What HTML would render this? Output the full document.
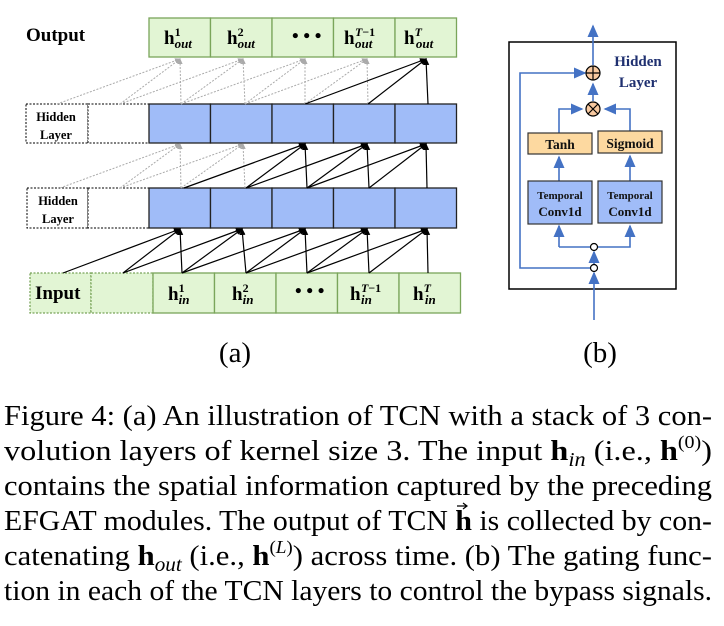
<!DOCTYPE html>
<html><head><meta charset="utf-8"><style>
html,body{margin:0;padding:0;background:#fff;width:724px;height:626px;overflow:hidden}
svg{display:block}
.b{font-family:"Liberation Serif",serif;font-weight:bold}
.cap{font-family:"Liberation Serif",serif;font-size:29px;fill:#000}
</style></head><body>
<svg width="724" height="626" viewBox="0 0 724 626" xmlns="http://www.w3.org/2000/svg">
<defs>
<marker id="ak" markerWidth="6" markerHeight="6" refX="5" refY="3" orient="auto"><path d="M0,0.5 L6,3 L0,5.5z" fill="#000"/></marker>
<marker id="ag" markerWidth="6" markerHeight="6" refX="5" refY="3" orient="auto"><path d="M0,0.5 L6,3 L0,5.5z" fill="#aaa"/></marker>
<marker id="ab" markerWidth="8" markerHeight="8" refX="7" refY="4" orient="auto"><path d="M0,0.5 L8,4 L0,7.5z" fill="#4472c4"/></marker>
</defs>

<!-- Output -->
<text x="26" y="41" class="b" font-size="19">Output</text>
<g fill="#e2f5d4" stroke="#7aa55a" stroke-width="1.3">
<rect x="149" y="18" width="61.5" height="39"/><rect x="210.5" y="18" width="61.5" height="39"/><rect x="272" y="18" width="61.5" height="39"/><rect x="333.5" y="18" width="61.5" height="39"/><rect x="395" y="18" width="61.5" height="39"/>
</g>
<g class="b" font-size="19">
<text x="164" y="44">h<tspan font-size="12" dy="-8">1</tspan><tspan font-size="13" font-style="italic" dx="-6" dy="12">out</tspan></text>
<text x="227" y="44">h<tspan font-size="12" dy="-8">2</tspan><tspan font-size="13" font-style="italic" dx="-6" dy="12">out</tspan></text>
<text x="292" y="42">• • •</text>
<text x="344" y="44">h</text>
<text x="355" y="36" font-size="12"><tspan font-style="italic">T</tspan>−1</text>
<text x="355" y="48" font-size="13" font-style="italic">out</text>
<text x="404" y="44">h<tspan font-size="12" font-style="italic" dy="-8">T</tspan><tspan font-size="13" font-style="italic" dx="-6" dy="12">out</tspan></text>
</g>

<!-- hidden layers -->
<g stroke="#000" stroke-dasharray="2,1.5" fill="#fff" stroke-width="1">
<rect x="26" y="104" width="62" height="39"/><rect x="88" y="104" width="61" height="39"/>
<rect x="27" y="188" width="61" height="40"/><rect x="88" y="188" width="61" height="40"/>
</g>
<g class="b" font-size="12.5" text-anchor="middle">
<text x="56" y="121">Hidden</text><text x="56" y="139">Layer</text>
<text x="58" y="205">Hidden</text><text x="58" y="223">Layer</text>
</g>
<g fill="#a0bcf8" stroke="#222" stroke-width="1.3">
<rect x="149" y="104" width="61.5" height="39"/><rect x="210.5" y="104" width="61.5" height="39"/><rect x="272" y="104" width="61.5" height="39"/><rect x="333.5" y="104" width="61.5" height="39"/><rect x="395" y="104" width="61.5" height="39"/>
<rect x="149" y="188" width="61.5" height="40"/><rect x="210.5" y="188" width="61.5" height="40"/><rect x="272" y="188" width="61.5" height="40"/><rect x="333.5" y="188" width="61.5" height="40"/><rect x="395" y="188" width="61.5" height="40"/>
</g>

<!-- input -->
<g fill="#e2f5d4" stroke="#7aa55a" stroke-width="1.3" stroke-dasharray="2,1.5">
<rect x="30" y="273" width="61" height="40"/><rect x="91" y="273" width="62" height="40"/>
</g>
<g fill="#e2f5d4" stroke="#7aa55a" stroke-width="1.3">
<rect x="153" y="273" width="61.5" height="40"/><rect x="214.5" y="273" width="61.5" height="40"/><rect x="276" y="273" width="61.5" height="40"/><rect x="337.5" y="273" width="61.5" height="40"/><rect x="399" y="273" width="61.5" height="40"/>
</g>
<g class="b" font-size="19">
<text x="35" y="299">Input</text>
<text x="168" y="300">h<tspan font-size="12" dy="-8">1</tspan><tspan font-size="13" font-style="italic" dx="-6" dy="12">in</tspan></text>
<text x="232" y="300">h<tspan font-size="12" dy="-8">2</tspan><tspan font-size="13" font-style="italic" dx="-6" dy="12">in</tspan></text>
<text x="295" y="297">• • •</text>
<text x="350" y="300">h</text>
<text x="361" y="292" font-size="12"><tspan font-style="italic">T</tspan>−1</text>
<text x="361" y="304" font-size="13" font-style="italic">in</text>
<text x="413" y="300">h<tspan font-size="12" font-style="italic" dy="-8">T</tspan><tspan font-size="13" font-style="italic" dx="-6" dy="12">in</tspan></text>
</g>

<!-- input -> hidden2 (all black) -->
<g stroke="#000" stroke-width="1.2" marker-end="url(#ak)">
<line x1="63" y1="273" x2="180" y2="229"/><line x1="123" y1="273" x2="180" y2="229"/><line x1="182" y1="273" x2="180" y2="229"/>
<line x1="123" y1="273" x2="242" y2="229"/><line x1="182" y1="273" x2="242" y2="229"/><line x1="246" y1="273" x2="242" y2="229"/>
<line x1="182" y1="273" x2="305" y2="229"/><line x1="246" y1="273" x2="305" y2="229"/><line x1="307" y1="273" x2="305" y2="229"/>
<line x1="246" y1="273" x2="367" y2="229"/><line x1="307" y1="273" x2="367" y2="229"/><line x1="369" y1="273" x2="367" y2="229"/>
<line x1="307" y1="273" x2="427" y2="229"/><line x1="369" y1="273" x2="427" y2="229"/><line x1="428" y1="273" x2="427" y2="229"/>
</g>
<!-- hidden2 -> hidden1 -->
<g stroke="#aaa" stroke-width="1" stroke-dasharray="2,1.5" marker-end="url(#ag)">
<line x1="60" y1="188" x2="180" y2="144"/><line x1="120" y1="188" x2="180" y2="144"/><line x1="181" y1="188" x2="180" y2="144"/>
<line x1="120" y1="188" x2="243" y2="144"/><line x1="181" y1="188" x2="243" y2="144"/><line x1="245" y1="188" x2="243" y2="144"/>
</g>
<g stroke="#000" stroke-width="1.2" marker-end="url(#ak)">
<line x1="184" y1="188" x2="305" y2="144"/><line x1="246" y1="188" x2="305" y2="144"/><line x1="307" y1="188" x2="305" y2="144"/>
<line x1="246" y1="188" x2="367" y2="144"/><line x1="307" y1="188" x2="367" y2="144"/><line x1="369" y1="188" x2="367" y2="144"/>
<line x1="307" y1="188" x2="426" y2="144"/><line x1="369" y1="188" x2="426" y2="144"/><line x1="427" y1="188" x2="426" y2="144"/>
</g>
<!-- hidden1 -> output -->
<g stroke="#aaa" stroke-width="1" stroke-dasharray="2,1.5" marker-end="url(#ag)">
<line x1="57" y1="104" x2="180" y2="59"/><line x1="120" y1="104" x2="180" y2="59"/><line x1="181" y1="104" x2="180" y2="59"/>
<line x1="120" y1="104" x2="243" y2="59"/><line x1="181" y1="104" x2="243" y2="59"/><line x1="245" y1="104" x2="243" y2="59"/>
<line x1="181" y1="104" x2="305" y2="59"/><line x1="245" y1="104" x2="305" y2="59"/><line x1="305" y1="104" x2="305" y2="59"/>
<line x1="245" y1="104" x2="367" y2="59"/><line x1="305" y1="104" x2="367" y2="59"/><line x1="368" y1="104" x2="367" y2="59"/>
</g>
<g stroke="#000" stroke-width="1.2" marker-end="url(#ak)">
<line x1="305" y1="104" x2="426" y2="59"/><line x1="368" y1="104" x2="426" y2="59"/><line x1="428" y1="104" x2="426" y2="59"/>
</g>

<!-- right panel -->
<rect x="509" y="42" width="167" height="247" fill="#fff" stroke="#000" stroke-width="1.5"/>
<g stroke="#4472c4" stroke-width="1.6" fill="none">
<line x1="593" y1="42" x2="593" y2="26" marker-end="url(#ab)"/>
<line x1="593" y1="65" x2="593" y2="42"/>
<line x1="593" y1="101" x2="593" y2="84" marker-end="url(#ab)"/>
<polyline points="559,133 559,109 582,109" marker-end="url(#ab)"/>
<polyline points="630,131 630,109 605,109" marker-end="url(#ab)"/>
<line x1="559" y1="181" x2="559" y2="157" marker-end="url(#ab)"/>
<line x1="630" y1="181" x2="630" y2="156" marker-end="url(#ab)"/>
<polyline points="559,247 559,226" marker-end="url(#ab)"/>
<polyline points="559,247 630,247 630,226" marker-end="url(#ab)"/>
<line x1="594" y1="264" x2="594" y2="252" marker-end="url(#ab)"/>
<line x1="594" y1="320" x2="594" y2="273" marker-end="url(#ab)"/>
<polyline points="590,268 520,268 520,73 585,73" marker-end="url(#ab)"/>
</g>
<circle cx="593" cy="73" r="7" fill="#f8c9a0" stroke="#000" stroke-width="1.2"/>
<path d="M586,73h14M593,66v14" stroke="#000" stroke-width="1.2"/>
<circle cx="593" cy="109" r="7" fill="#f8c9a0" stroke="#000" stroke-width="1.2"/>
<path d="M588,104l10,10M598,104l-10,10" stroke="#000" stroke-width="1.2"/>
<circle cx="594" cy="247" r="3.5" fill="#fff" stroke="#000" stroke-width="1.2"/>
<circle cx="594" cy="268" r="3.5" fill="#fff" stroke="#000" stroke-width="1.2"/>
<g class="b" fill="#1f3070" font-size="15" text-anchor="middle">
<text x="638" y="66">Hidden</text><text x="638" y="87">Layer</text>
</g>
<rect x="528" y="133" width="64" height="21" fill="#fdd9a0" stroke="#333" stroke-width="1.2"/>
<rect x="598" y="131" width="64" height="22" fill="#fdd9a0" stroke="#333" stroke-width="1.2"/>
<rect x="528" y="181" width="64" height="43" fill="#a0bcf8" stroke="#333" stroke-width="1.2"/>
<rect x="598" y="181" width="64" height="42" fill="#a0bcf8" stroke="#333" stroke-width="1.2"/>
<g class="b" text-anchor="middle" fill="#111">
<text x="560" y="149" font-size="13.5">Tanh</text>
<text x="630" y="148" font-size="13.5">Sigmoid</text>
<text x="560" y="199" font-size="11">Temporal</text><text x="560" y="216" font-size="13">Conv1d</text>
<text x="630" y="199" font-size="11">Temporal</text><text x="630" y="216" font-size="13">Conv1d</text>
</g>

<text x="235" y="362" class="cap" font-size="21" text-anchor="middle">(a)</text>
<text x="600" y="362" class="cap" font-size="21" text-anchor="middle">(b)</text>

<g class="cap">
<text x="4" y="425" textLength="708" lengthAdjust="spacingAndGlyphs">Figure 4: (a) An illustration of TCN with a stack of 3 con-</text>
<text x="4" y="460" textLength="708" lengthAdjust="spacingAndGlyphs">volution layers of kernel size 3.  The input <tspan font-weight="bold">h</tspan><tspan font-style="italic" font-size="20" dy="6">in</tspan><tspan dy="-6"> (i.e., </tspan><tspan font-weight="bold">h</tspan><tspan font-size="18" dy="-12">(0)</tspan><tspan dy="12">)</tspan></text>
<text x="4" y="495" textLength="708" lengthAdjust="spacingAndGlyphs">contains the spatial information captured by the preceding</text>
<text x="4" y="530" textLength="708" lengthAdjust="spacingAndGlyphs">EFGAT modules. The output of TCN <tspan font-weight="bold">h</tspan> is collected by con-</text>
<text x="4" y="565" textLength="708" lengthAdjust="spacingAndGlyphs">catenating <tspan font-weight="bold">h</tspan><tspan font-style="italic" font-size="20" dy="6">out</tspan><tspan dy="-6"> (i.e., </tspan><tspan font-weight="bold">h</tspan><tspan font-size="18" dy="-12">(<tspan font-style="italic">L</tspan>)</tspan><tspan dy="12">) across time. (b) The gating func-</tspan></text>
<text x="4" y="600" textLength="708" lengthAdjust="spacingAndGlyphs">tion in each of the TCN layers to control the bypass signals.</text>
</g>
<path d="M457,506h10M463,503l4,3l-4,3" stroke="#000" stroke-width="1.2" fill="none"/>
</svg>
</body></html>
